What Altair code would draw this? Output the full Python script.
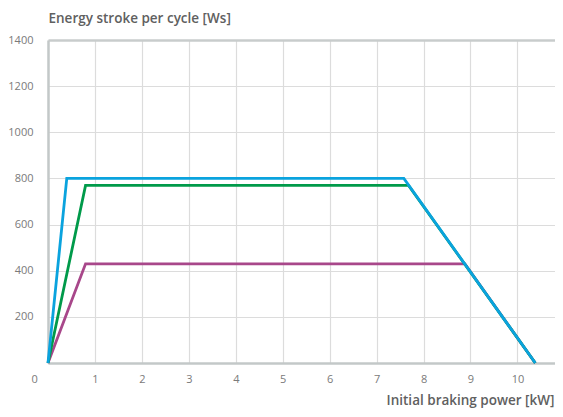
import altair as alt
import pandas as pd

# Data
series_names = ["A", "B", "C"]
x_a = [0.0, 0.80, 8.88, 10.38]
y_a = [0, 430, 430, 0]
x_b = [0.0, 0.80, 7.68, 10.38]
y_b = [0, 770, 770, 0]
x_c = [0.0, 0.40, 7.58, 10.38]
y_c = [0, 800, 800, 0]
colors = ["#a8478a", "#009a4a", "#0aa3de"]

x_ticks = list(range(0, 11))
y_ticks = [0, 200, 400, 600, 800, 1000, 1200, 1400]

rows = []
for name, xs, ys in zip(series_names, [x_a, x_b, x_c], [y_a, y_b, y_c]):
    for i, (xv, yv) in enumerate(zip(xs, ys)):
        rows.append({"series": name, "order": i, "x": xv, "y": yv})
df = pd.DataFrame(rows)

FONT = "Open Sans"
W, H = 507, 323

chart = alt.Chart(df).mark_line(strokeWidth=2.8, strokeJoin="miter", clip=False).encode(
    x=alt.X("x:Q", scale=alt.Scale(domain=[0, 10.8], nice=False, zero=True),
            axis=alt.Axis(values=x_ticks, title="Initial braking power [kW]", format="d",
                          labelOffset={"condition": {"test": "datum.value == 0", "value": -17}, "value": 0},
                          grid=True, ticks=False, labelPadding=10,
                          domainColor="#c3c8c8", domainWidth=2.5,
                          gridColor="#dcdcdc", gridWidth=1.2,
                          labelFont=FONT, labelFontSize=11, labelColor="#7a7a7a",
                          titleFont=FONT, titleFontSize=13.5, titleFontWeight=600, titleColor="#606060",
                          titleAnchor="end", titleAlign="right", titleX=W - 1, titleY=37,
                          titleBaseline="middle")),
    y=alt.Y("y:Q", scale=alt.Scale(domain=[0, 1400], nice=False),
            axis=alt.Axis(values=y_ticks, title="Energy stroke per cycle [Ws]", format="d",
                          labelExpr="datum.value == 0 ? '' : datum.label",
                          grid=True, ticks=False, labelPadding=15,
                          domainColor="#c3c8c8", domainWidth=2.5,
                          gridColor={"condition": {"test": "datum.value == 1400", "value": "#c8cccc"}, "value": "#dcdcdc"},
                          gridWidth={"condition": {"test": "datum.value == 1400", "value": 2.5}, "value": 1.2},
                          labelFont=FONT, labelFontSize=11, labelColor="#7a7a7a",
                          titleFont=FONT, titleFontSize=13.5, titleFontWeight=600, titleColor="#606060",
                          titleAngle=0, titleAlign="left", titleAnchor="start",
                          titleX=0, titleY=-22, titleBaseline="middle")),
    color=alt.Color("series:N", scale=alt.Scale(domain=series_names, range=colors), legend=None),
    order="order:Q",
).properties(
    width=W, height=H,
    autosize=alt.AutoSizeParams(type="none"),
    padding={"left": 40, "top": 32, "right": 0, "bottom": 46},
).configure_view(stroke=None)

chart.save("out.html", embed_options={"renderer": "svg", "actions": False})
